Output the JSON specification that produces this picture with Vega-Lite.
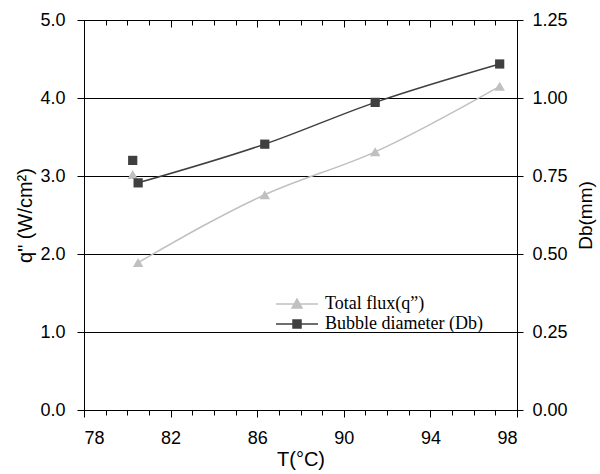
{
  "$schema": "https://vega.github.io/schema/vega-lite/v6.json",
  "width": 433,
  "height": 390,
  "autosize": {"type": "none"},
  "padding": {"left": 84, "top": 20, "right": 83, "bottom": 64},
  "background": "white",
  "config": {
    "view": {"stroke": null},
    "font": "Liberation Sans",
    "axis": {
      "labelFont": "Liberation Sans",
      "titleFont": "Liberation Sans",
      "labelFontSize": 18,
      "titleFontSize": 20,
      "titleFontWeight": "normal",
      "labelColor": "black",
      "titleColor": "black",
      "domainColor": "black",
      "tickColor": "black",
      "domainWidth": 1,
      "tickWidth": 1
    }
  },
  "data": {
    "values": [
      {"measure": "q", "series": "Total flux(q”)", "T": 80.25, "value": 3.02, "connected": false},
      {"measure": "q", "series": "Total flux(q”)", "T": 80.5, "value": 1.89, "connected": true},
      {"measure": "q", "series": "Total flux(q”)", "T": 86.35, "value": 2.76, "connected": true},
      {"measure": "q", "series": "Total flux(q”)", "T": 91.45, "value": 3.31, "connected": true},
      {"measure": "q", "series": "Total flux(q”)", "T": 97.2, "value": 4.15, "connected": true},
      {"measure": "D", "series": "Bubble diameter (Db)", "T": 80.25, "value": 0.80, "connected": false},
      {"measure": "D", "series": "Bubble diameter (Db)", "T": 80.5, "value": 0.728, "connected": true},
      {"measure": "D", "series": "Bubble diameter (Db)", "T": 86.35, "value": 0.852, "connected": true},
      {"measure": "D", "series": "Bubble diameter (Db)", "T": 91.45, "value": 0.986, "connected": true},
      {"measure": "D", "series": "Bubble diameter (Db)", "T": 97.2, "value": 1.109, "connected": true}
    ]
  },
  "layer": [
    {
      "transform": [{"filter": "datum.measure === 'q'"}],
      "encoding": {
        "x": {
          "field": "T",
          "type": "quantitative",
          "scale": {"domain": [78, 98], "nice": false, "zero": false},
          "axis": {
            "values": [78,79,80,81,82,83,84,85,86,87,88,89,90,91,92,93,94,95,96,97,98],
            "labelExpr": "datum.value % 4 == 2 ? datum.label : ''",
            "grid": false,
            "tickSize": {"condition": {"test": "datum.value % 4 == 2", "value": 7}, "value": 5},
            "labelPadding": 12,
            "title": "T(°C)",
            "titlePadding": 2
          }
        },
        "y": {
          "field": "value",
          "type": "quantitative",
          "scale": {"domain": [0, 5], "nice": false},
          "axis": {
            "orient": "left",
            "values": [0, 1, 2, 3, 4, 5],
            "format": ".1f",
            "grid": true,
            "gridColor": "black",
            "gridOpacity": 1,
            "gridWidth": 1,
            "tickSize": 7,
            "labelPadding": 12,
            "title": "q\" (W/cm²)",
            "titlePadding": 4
          }
        }
      },
      "layer": [
        {
          "transform": [{"filter": "datum.connected"}],
          "mark": {"type": "line", "color": "#c0c0c0", "strokeWidth": 1.5, "interpolate": "monotone"}
        },
        {
          "mark": {"type": "point", "filled": true, "shape": "triangle-up", "color": "#c0c0c0", "size": 110, "opacity": 1}
        }
      ]
    },
    {
      "transform": [{"filter": "datum.measure === 'D'"}],
      "encoding": {
        "x": {
          "field": "T",
          "type": "quantitative",
          "scale": {"domain": [78, 98], "nice": false, "zero": false},
          "axis": {
            "values": [78,79,80,81,82,83,84,85,86,87,88,89,90,91,92,93,94,95,96,97,98],
            "labels": false,
            "domain": false,
            "grid": false,
            "tickSize": {"condition": {"test": "datum.value % 4 == 2", "value": -7}, "value": -5},
            "title": null
          }
        },
        "y": {
          "field": "value",
          "type": "quantitative",
          "scale": {"domain": [0, 1.25], "nice": false},
          "axis": {
            "orient": "right",
            "values": [0, 0.25, 0.5, 0.75, 1, 1.25],
            "format": ".2f",
            "grid": false,
            "tickSize": 6,
            "labelPadding": 9,
            "title": "Db(mm)",
            "titleFontSize": 19,
            "titleAngle": 270,
            "titleBaseline": "top",
            "titlePadding": 9
          }
        }
      },
      "layer": [
        {
          "transform": [{"filter": "datum.connected"}],
          "mark": {"type": "line", "color": "#3f3f3f", "strokeWidth": 1.5, "interpolate": "monotone"}
        },
        {
          "mark": {"type": "point", "filled": true, "shape": "square", "color": "#3f3f3f", "size": 85, "opacity": 1},
          "encoding": {
            "y": {
              "field": "value",
              "type": "quantitative",
              "scale": {"domain": [0, 1.25], "nice": false},
              "axis": {
                "orient": "right",
                "values": [0, 0.25, 0.5, 0.75, 1, 1.25],
                "labels": false,
                "domain": false,
                "grid": false,
                "tickSize": -6,
                "title": null
              }
            }
          }
        },
        {
          "mark": {"type": "point", "opacity": 0},
          "encoding": {
            "y": {"field": "value", "type": "quantitative", "axis": null},
            "shape": {
              "field": "series", "type": "nominal",
              "scale": {"domain": ["Total flux(q”)", "Bubble diameter (Db)"], "range": ["M-4.2,0H4.2M-1,0.8L0,-1L1,0.8Z", "M-4.2,0H4.2M-0.8,-0.8H0.8V0.8H-0.8Z"]},
              "legend": {
                "title": null, "orient": "none", "legendX": 204, "legendY": 275, "padding": 0, "rowPadding": 2,
                "labelFont": "Liberation Serif", "labelFontSize": 18, "labelColor": "black", "labelOffset": 19,
                "symbolSize": 100, "symbolStrokeWidth": 1.5, "symbolOpacity": 1,
                "symbolFillColor": "black", "symbolStrokeColor": "black"
              }
            },
            "fill": {
              "field": "series", "type": "nominal",
              "scale": {"domain": ["Total flux(q”)", "Bubble diameter (Db)"], "range": ["#c0c0c0", "#3f3f3f"]},
              "legend": {
                "title": null, "orient": "none", "legendX": 204, "legendY": 275, "padding": 0, "rowPadding": 2,
                "labelFont": "Liberation Serif", "labelFontSize": 18, "labelColor": "black", "labelOffset": 19,
                "symbolSize": 100, "symbolStrokeWidth": 1.5, "symbolOpacity": 1,
                "symbolFillColor": "black", "symbolStrokeColor": "black"
              }
            },
            "stroke": {
              "field": "series", "type": "nominal",
              "scale": {"domain": ["Total flux(q”)", "Bubble diameter (Db)"], "range": ["#c0c0c0", "#3f3f3f"]},
              "legend": {
                "title": null, "orient": "none", "legendX": 204, "legendY": 275, "padding": 0, "rowPadding": 2,
                "labelFont": "Liberation Serif", "labelFontSize": 18, "labelColor": "black", "labelOffset": 19,
                "symbolSize": 100, "symbolStrokeWidth": 1.5, "symbolOpacity": 1,
                "symbolFillColor": "black", "symbolStrokeColor": "black"
              }
            }
          }
        }
      ],
      "resolve": {"axis": {"y": "independent"}}
    }
  ],
  "resolve": {"scale": {"y": "independent"}, "axis": {"x": "independent"}}
}
